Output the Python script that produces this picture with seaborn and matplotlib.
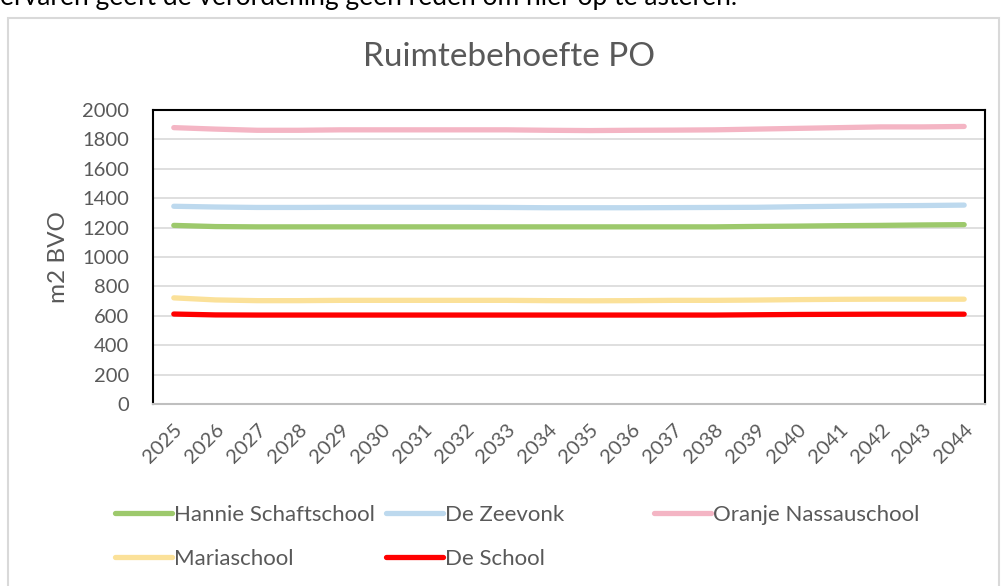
import pandas as pd
import seaborn as sns
import matplotlib.pyplot as plt
from matplotlib.patches import Rectangle

# data
years = list(range(2025, 2045))
hannie = [1215, 1207, 1205, 1205, 1205, 1205, 1205, 1205, 1205, 1205,
          1205, 1205, 1205, 1205, 1208, 1210, 1213, 1215, 1218, 1220]
zeevonk = [1345, 1340, 1337, 1337, 1338, 1338, 1338, 1338, 1337, 1335,
           1335, 1335, 1336, 1337, 1338, 1342, 1345, 1348, 1350, 1353]
oranje = [1880, 1870, 1862, 1862, 1865, 1865, 1865, 1865, 1865, 1862,
          1860, 1862, 1863, 1865, 1870, 1875, 1880, 1885, 1885, 1888]
maria = [722, 708, 703, 703, 705, 705, 705, 705, 705, 703,
         702, 703, 705, 705, 707, 710, 712, 713, 713, 713]
deschool = [612, 606, 605, 605, 605, 605, 605, 605, 605, 605,
            605, 605, 605, 605, 607, 609, 610, 611, 611, 611]

series = {
    "Hannie Schaftschool": hannie,
    "De Zeevonk": zeevonk,
    "Oranje Nassauschool": oranje,
    "Mariaschool": maria,
    "De School": deschool,
}
colors = {
    "Hannie Schaftschool": "#9DC96C",
    "De Zeevonk": "#BDD9EE",
    "Oranje Nassauschool": "#F4B5C4",
    "Mariaschool": "#FBE199",
    "De School": "#FF0000",
}

rows = []
for name, vals in series.items():
    for y, v in zip(years, vals):
        rows.append({"jaar": y, "m2": v, "school": name})
df = pd.DataFrame(rows)

sns.set_style("white")
plt.rcParams["font.family"] = ["Lato", "DejaVu Sans"]
grey = "#595959"

fig = plt.figure(figsize=(10.02, 5.86), dpi=100)
ax = fig.add_axes([0.1527, 0.3106, 0.8303, 0.5017])

sns.lineplot(data=df, x="jaar", y="m2", hue="school", palette=colors,
             linewidth=3.8, solid_capstyle="round", ax=ax)
handles, labels = ax.get_legend_handles_labels()
ax.get_legend().remove()

ax.set_xlim(2024.5, 2044.5)
ax.set_ylim(0, 2000)
ax.set_yticks(range(0, 2001, 200))
ax.set_xticks(years)
ax.set_xticklabels([str(y) for y in years], rotation=45, ha="right",
                   rotation_mode="anchor")
ax.grid(axis="y", color="#D9D9D9", linewidth=1.2)
ax.set_axisbelow(True)
ax.tick_params(axis="both", labelsize=14.5, labelcolor=grey, length=0)
ax.tick_params(axis="x", pad=12)
ax.tick_params(axis="y", pad=17)
for s in ["left", "top", "right"]:
    ax.spines[s].set_color("black")
    ax.spines[s].set_linewidth(1.5)
ax.spines["bottom"].set_color("#BFBFBF")
ax.spines["bottom"].set_linewidth(1.5)
ax.set_xlabel("")
ax.set_ylabel("m2 BVO", fontsize=17.5, color=grey, labelpad=10)

fig.text(0.508, 0.902, "Ruimtebehoefte PO", ha="center", va="center",
         fontsize=24, color=grey)

# legend in three columns like the original
cols = [(["Hannie Schaftschool", "Mariaschool"], 0.0948),
        (["De Zeevonk", "De School"], 0.365),
        (["Oranje Nassauschool"], 0.633)]
lut = dict(zip(labels, handles))
for names, x in cols:
    fig.legend([lut[n] for n in names], names, loc="upper left",
               bbox_to_anchor=(x, 0.172), bbox_transform=fig.transFigure,
               frameon=False, fontsize=16, labelcolor=grey,
               handlelength=2.56, handletextpad=0.1, labelspacing=1.05)

# outer chart frame and the cut-off line of text above it
fig.patches.append(Rectangle((8 / 1002, -0.1), 991 / 1002, 1.1 - 18 / 586,
                             transform=fig.transFigure, fill=False,
                             edgecolor="#D9D9D9", linewidth=1.5))
fig.text(0.0, 1 - 5 / 586, "ervaren geeft de verordening geen reden om hier op te asteren.",
         ha="left", va="baseline", fontsize=19, color="black")

fig.savefig("out.png", dpi=100)
